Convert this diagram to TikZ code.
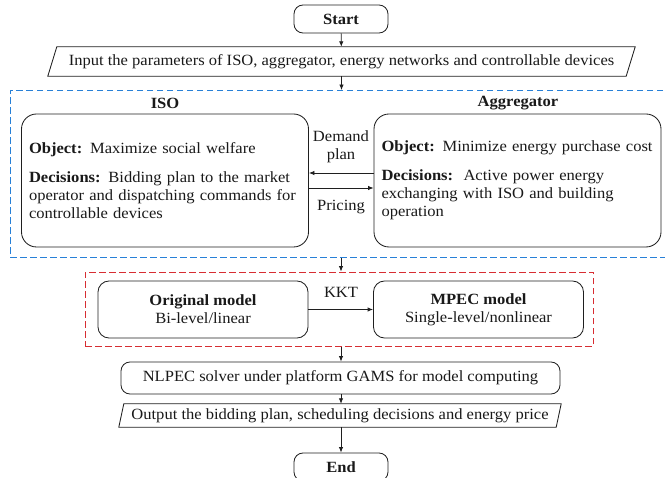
\documentclass[tikz,border=0pt]{standalone}
\usepackage{fontspec}
\setmainfont{Liberation Serif}[FakeStretch=1.06]
\usetikzlibrary{arrows.meta}
\definecolor{isoblue}{RGB}{40,128,215}
\definecolor{kktred}{RGB}{215,45,50}
\tikzset{
  every node/.style={font=\fontsize{15.6}{18}\selectfont, text=black!90, inner sep=0pt},
  ln/.style={draw=black!88, line width=0.85pt},
  arr/.style={ln, -{Latex[length=5.5pt,width=4.5pt]}},
  termbox/.style={ln, rounded corners=9pt, minimum width=94pt, minimum height=28pt},
  procbox/.style={ln, rounded corners=9pt},
  bigbox/.style={ln, rounded corners=15pt, minimum width=287pt, minimum height=133pt,
                 align=left, text width=272pt},
  modelbox/.style={ln, rounded corners=11pt, minimum width=210pt, minimum height=57pt, align=center},
  iobox/.style={minimum height=29pt},
  frame/.style={dash pattern=on 6.5pt off 3.5pt, line width=0.85pt},
}
\begin{document}
\begin{tikzpicture}[x=1pt,y=-1pt]
\useasboundingbox (0,0) rectangle (665,478);

% start and input
\node[termbox] (start) at (341,19) {\textbf{Start}};
\node[iobox, minimum width=578pt] (input) at (341.5,61.5)
  {Input the parameters of ISO, aggregator, energy networks and controllable devices};
\draw[ln] ([xshift=-4.5pt]input.south west) -- ([xshift=4.5pt]input.north west)
  -- ([xshift=4.5pt]input.north east) -- ([xshift=-4.5pt]input.south east) -- cycle;

% bi-level game frame
\node[frame, draw=isoblue, minimum width=658pt, minimum height=167pt] (bluebox) at (339,174) {};
\node (isolabel) at (165,103) {\textbf{ISO}};
\node (agglabel) at (518,103) {\textbf{Aggregator}};
\node[bigbox] (iso) at (165,180.5)
  {\textbf{Object:} Maximize social welfare\\[11pt]
   \textbf{Decisions:} Bidding plan to the market\\
   operator and dispatching commands for\\
   controllable devices};
\node[bigbox] (agg) at (517.5,180.5)
  {\textbf{Object:} Minimize energy purchase cost\\[11pt]
   \textbf{Decisions:}\ \ Active power energy\\
   exchanging with ISO and building\\
   operation};
\node[align=center] (dplabel) at (341,147) {Demand\\plan};
\node (prlabel) at (341,207) {Pricing};
\coordinate (dp) at (341,173);
\coordinate (pr) at (341,188);
\draw[arr] (agg.west |- dp) -- (iso.east |- dp);
\draw[arr] (iso.east |- pr) -- (agg.west |- pr);

% model reformulation frame
\node[frame, draw=kktred, minimum width=508pt, minimum height=74.5pt] (redbox) at (339,309.25) {};
\node[modelbox] (orig) at (203,309.5) {\textbf{Original model}\\Bi-level/linear};
\node[modelbox] (mpec) at (478.5,309.5) {\textbf{MPEC model}\\Single-level/nonlinear};
\draw[arr] (orig.east) -- (mpec.west);
\node (kkt) at (341,292) {KKT};

% solver, output and end
\node[procbox, minimum width=439pt, minimum height=32pt] (nlpec) at (340.5,378)
  {NLPEC solver under platform GAMS for model computing};
\node[iobox, minimum width=437pt, minimum height=23pt] (output) at (340,415.5)
  {Output the bidding plan, scheduling decisions and energy price};
\draw[ln] ([xshift=-2.5pt]output.south west) -- ([xshift=2.5pt]output.north west)
  -- ([xshift=2.5pt]output.north east) -- ([xshift=-2.5pt]output.south east) -- cycle;
\node[termbox] (end) at (341,467) {\textbf{End}};

% main flow
\draw[arr] (start) -- (input);
\draw[arr] (input.south) -- (input.south |- bluebox.north);
\draw[arr] (bluebox.south -| start) -- (redbox.north -| start);
\draw[arr] (redbox.south -| start) -- (nlpec.north -| start);
\draw[arr] (nlpec.south -| start) -- (output.north -| start);
\draw[arr] (output.south -| start) -- (end);
\end{tikzpicture}
\end{document}
